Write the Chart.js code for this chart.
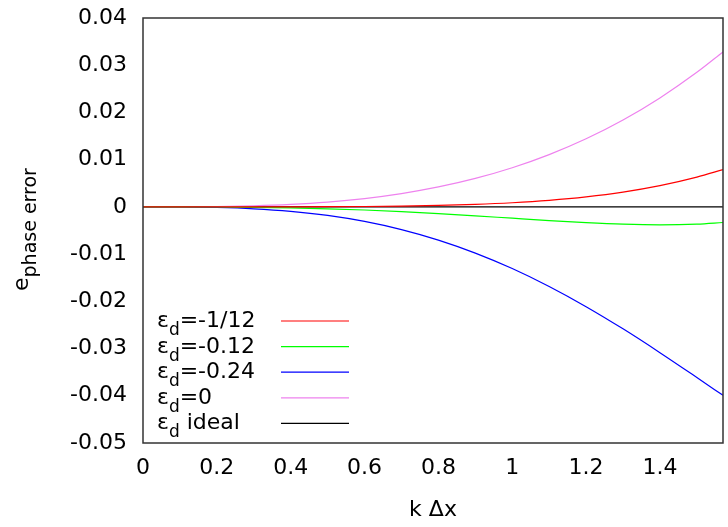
<!DOCTYPE html>
<html>
<head>
<meta charset="utf-8">
<title>Phase error vs k Δx</title>
<script src="https://cdn.jsdelivr.net/npm/chart.js@4/dist/chart.umd.min.js"></script>
<style>
  html, body { margin: 0; padding: 0; background: #fff; }
  canvas { display: block; }
</style>
</head>
<body>
<canvas id="c" width="728" height="527"></canvas>
<script>
// Normalised wavenumber k Δx, from 0 to π/2
const kdx = [0, 0.1, 0.2, 0.3, 0.4, 0.5, 0.6, 0.7, 0.8, 0.9, 1.0, 1.1, 1.2, 1.3, 1.4, 1.5, 1.5708];

// Phase error for each value of ε_d
const errEpsM1_12 = [0, 0, 0.000001, 0.000004, 0.000014, 0.000036, 0.00008, 0.000163, 0.000304, 0.000531, 0.00088, 0.00139, 0.00212, 0.00313, 0.0045, 0.0063, 0.0079];
const errEpsM012  = [0, -0.000004, -0.000027, -0.00009, -0.00021, -0.0004, -0.00066, -0.00101, -0.00142, -0.00189, -0.0024, -0.0029, -0.00334, -0.00367, -0.00381, -0.00366, -0.00331];
const errEpsM024  = [0, -0.000015, -0.000119, -0.0004, -0.00094, -0.00181, -0.00308, -0.00481, -0.00703, -0.00978, -0.01305, -0.01685, -0.02113, -0.02583, -0.03087, -0.03613, -0.03991];
const errEps0     = [0, 0.000008, 0.000065, 0.000221, 0.000524, 0.00102, 0.00177, 0.00282, 0.00422, 0.00603, 0.00829, 0.01107, 0.01442, 0.0184, 0.02307, 0.02849, 0.03282];
const errIdeal    = [0, 0, 0, 0, 0, 0, 0, 0, 0, 0, 0, 0, 0, 0, 0, 0, 0];

// Series legend text (drawn as ε with subscript d, then the suffix)
const legendSuffix = ['=-1/12', '=-0.12', '=-0.24', '=0', ' ideal'];
const seriesColors = ['#ff0000', '#00ff00', '#0000ff', '#ee82ee', '#000000'];

// Axis ticks
const xTicks = [0, 0.2, 0.4, 0.6, 0.8, 1.0, 1.2, 1.4];
const yTicks = [-0.05, -0.04, -0.03, -0.02, -0.01, 0, 0.01, 0.02, 0.03, 0.04];

const FONT = "'DejaVu Sans', 'Liberation Sans', Arial, sans-serif";
const FONT_SIZE = 22;

const seriesValues = [errEpsM1_12, errEpsM012, errEpsM024, errEps0, errIdeal];
const datasets = seriesValues.map((vals, i) => ({
  label: 'eps_d' + legendSuffix[i],
  data: vals.map((y, j) => ({ x: kdx[j], y: y })),
  borderColor: seriesColors[i],
  backgroundColor: seriesColors[i],
  borderWidth: 1.2,
  pointRadius: 0,
  fill: false,
  cubicInterpolationMode: 'monotone'
}));

// Frame, axis titles and legend with subscripts
const decorations = {
  id: 'decorations',
  afterDatasetsDraw(chart) {
    const ctx = chart.ctx;
    const a = chart.chartArea;
    ctx.save();

    // plot frame
    ctx.strokeStyle = '#333';
    ctx.lineWidth = 1.5;
    ctx.strokeRect(a.left, a.top, a.right - a.left, a.bottom - a.top);

    ctx.fillStyle = '#000';
    ctx.textBaseline = 'alphabetic';

    // x axis title
    ctx.font = FONT_SIZE + 'px ' + FONT;
    ctx.textAlign = 'center';
    ctx.fillText('k Δx', (a.left + a.right) / 2, 516);

    // y axis title: e with subscript "phase error"
    ctx.textAlign = 'left';
    ctx.save();
    ctx.translate(28, 291);
    ctx.rotate(-Math.PI / 2);
    ctx.font = FONT_SIZE + 'px ' + FONT;
    ctx.fillText('e', 0, 0);
    const we = ctx.measureText('e').width;
    ctx.font = '19px ' + FONT;
    ctx.fillText('phase error', we, 8);
    ctx.restore();

    // legend
    const textX = a.left + 14;
    const lineX0 = 281, lineX1 = 349;
    for (let i = 0; i < legendSuffix.length; i++) {
      const ly = 321 + i * 25.6;
      ctx.font = FONT_SIZE + 'px ' + FONT;
      ctx.fillStyle = '#000';
      ctx.fillText('ε', textX, ly + 6);
      let x = textX + ctx.measureText('ε').width;
      ctx.font = '17px ' + FONT;
      ctx.fillText('d', x, ly + 14);
      x += ctx.measureText('d').width;
      ctx.font = FONT_SIZE + 'px ' + FONT;
      ctx.fillText(legendSuffix[i], x, ly + 6);

      ctx.strokeStyle = seriesColors[i];
      ctx.lineWidth = 1.2;
      ctx.beginPath();
      ctx.moveTo(lineX0, ly);
      ctx.lineTo(lineX1, ly);
      ctx.stroke();
    }
    ctx.restore();
  }
};

new Chart(document.getElementById('c'), {
  type: 'line',
  data: { datasets: datasets },
  options: {
    responsive: false,
    animation: false,
    devicePixelRatio: 1,
    layout: { padding: { top: 18, right: 5, left: 0, bottom: 0 } },
    plugins: {
      legend: { display: false },
      tooltip: { enabled: false },
      title: { display: false }
    },
    scales: {
      x: {
        type: 'linear',
        min: 0,
        max: Math.PI / 2,
        afterBuildTicks: (scale) => { scale.ticks = xTicks.map(v => ({ value: v })); },
        afterFit: (scale) => {
          scale.height = 84;
          scale.paddingLeft = 0;
          scale.paddingRight = 0;
        },
        grid: { display: false },
        border: { display: false },
        ticks: {
          color: '#000',
          font: { family: FONT, size: FONT_SIZE },
          padding: 4,
          maxRotation: 0,
          autoSkip: false,
          callback: (v) => String(Number(v.toFixed(1)))
        }
      },
      y: {
        type: 'linear',
        min: -0.05,
        max: 0.04,
        afterBuildTicks: (scale) => { scale.ticks = yTicks.map(v => ({ value: v })); },
        afterFit: (scale) => {
          scale.width = 143;
          scale.paddingTop = 0;
          scale.paddingBottom = 0;
        },
        grid: { display: false },
        border: { display: false },
        ticks: {
          color: '#000',
          font: { family: FONT, size: FONT_SIZE },
          padding: 8,
          autoSkip: false,
          callback: (v) => String(Number(v.toFixed(2)))
        }
      }
    }
  },
  plugins: [decorations]
});
</script>
</body>
</html>
